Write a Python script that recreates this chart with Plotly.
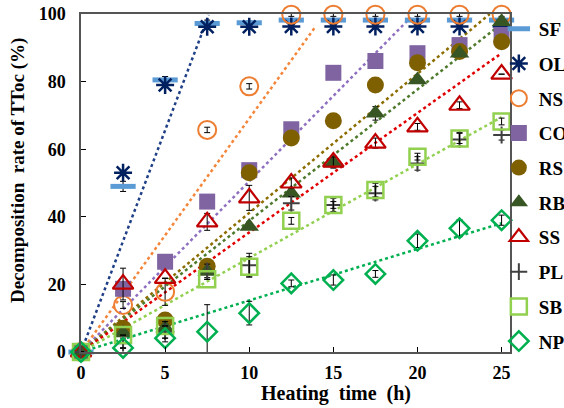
import plotly.graph_objects as go

# ---- data ----
t = [0, 2.5, 5, 7.5, 10, 12.5, 15, 17.5, 20, 22.5, 25]

names = ["SF", "OL", "NS", "CO", "RS", "RB", "SS", "PL", "SB", "NP"]

SF = [0, 49, 80.5, 97.2, 97.4, 98.2, 98.2, 98.2, 98.2, 98.2, 98.2]
OL = [0, 53, 79, 96.2, 96.2, 96.3, 96.3, 96.3, 96.3, 96.3, 96.3]
NS = [0, 13.9, 17.8, 65.7, 78.6, 99.8, 99.8, 99.8, 99.8, 99.8, 99.8]
CO = [0, 18.7, 26.7, 44.5, 53.8, 65.9, 82.6, 86.1, 88.4, 90.8, 93.8]
RS = [0, 7.0, 9.5, 25.4, 53.0, 63.3, 68.4, 79.0, 85.6, 88.9, 91.8]
RB = [0, 5.6, 7.1, 23.8, 37.1, 47.0, 55.9, 70.6, 80.5, 88.4, 97.7]
SS = [0, 20.1, 21.8, 38.5, 45.6, 50.0, 56.2, 61.8, 66.6, 73.0, 82.2]
PL = [0, 2.6, 6.0, 24.0, 25.7, 44.0, 43.5, 47.0, 55.8, 62.9, 64.2]
SB = [0, 5.0, 7.7, 21.5, 25.2, 38.8, 43.5, 47.9, 57.8, 63.2, 68.2]
NP = [0, 1.2, 4.1, 6.0, 11.5, 20.3, 21.3, 23.1, 32.9, 36.6, 39.0]

SF_err = [0, 1.5, 1.0, 1.0, 0.5, 0, 0, 0, 0, 0, 0]
OL_err = [0, 0, 0, 0, 0, 0, 0, 0, 0, 0, 0]
NS_err = [0, 1.0, 4.0, 0.8, 0.8, 0.5, 0.5, 0.5, 0.5, 0.5, 0.5]
CO_err = [0, 0, 0, 0, 0, 0, 0, 0, 0, 0, 0]
RS_err = [0, 0, 0, 0, 0, 0, 0, 0, 0, 0, 0]
RB_err = [0, 0, 0, 0, 0, 1.0, 1.5, 2.0, 0, 0, 0]
SS_err = [0, 4.7, 0, 2.5, 3.7, 1.5, 1.5, 1.5, 1.0, 1.0, 0]
PL_err = [0, 1.5, 3.0, 2.0, 3.5, 2.0, 2.0, 2.0, 2.0, 2.0, 1.5]
SB_err = [0, 0, 0, 0, 3.0, 1.0, 1.0, 2.0, 1.0, 1.5, 1.0]
NP_err = [0, 0, 0, 8.0, 3.5, 1.0, 1.5, 1.0, 2.0, 2.5, 1.5]

# trend lines (dotted) from origin to read end points
trend_names = ["OL", "NS", "CO", "RS", "RB", "SS", "SB", "NP"]
trend_end_t = [7.6, 13.9, 19.6, 24.3, 24.9, 25.0, 25.0, 25.0]
trend_end_v = [99.7, 96.0, 99.0, 100.0, 96.7, 88.4, 69.5, 38.1]

x_ticks = [0, 5, 10, 15, 20, 25]
y_ticks = [0, 20, 40, 60, 80, 100]

# ---- styles ----
values = dict(SF=SF, OL=OL, NS=NS, CO=CO, RS=RS, RB=RB, SS=SS, PL=PL, SB=SB, NP=NP)
errors = dict(SF=SF_err, OL=OL_err, NS=NS_err, CO=CO_err, RS=RS_err, RB=RB_err,
              SS=SS_err, PL=PL_err, SB=SB_err, NP=NP_err)
marker_style = {
    "SF": dict(symbol="line-ew", size=18, color="#5B9BD5", line=dict(width=5, color="#5B9BD5")),
    "OL": dict(symbol="asterisk", size=15, color="#002060", line=dict(width=2.5, color="#002060")),
    "NS": dict(symbol="circle-open", size=18, color="#ED7D31", line=dict(width=2, color="#ED7D31")),
    "CO": dict(symbol="square", size=16, color="#8064A2", line=dict(width=0)),
    "RS": dict(symbol="circle", size=17, color="#7F6000", line=dict(width=0)),
    "RB": dict(symbol="triangle-up", size=17, color="#375623", line=dict(width=0)),
    "SS": dict(symbol="triangle-up-open", size=18, color="#C00000", line=dict(width=2.2, color="#C00000")),
    "PL": dict(symbol="cross-thin", size=12, color="#404040", line=dict(width=2, color="#404040")),
    "SB": dict(symbol="square-open", size=16, color="#92D050", line=dict(width=2.5, color="#92D050")),
    "NP": dict(symbol="diamond-open", size=15, color="#00B050", line=dict(width=2.5, color="#00B050")),
}
trend_color = {
    "OL": "#1F3F86", "NS": "#F4863B", "CO": "#8F6FBF", "RS": "#8C6D00",
    "RB": "#4E7A2C", "SS": "#E00000", "SB": "#92D050", "NP": "#00B050",
}

FONT = "Liberation Serif, Times New Roman, serif"

fig = go.Figure()

for n, te, ve in zip(trend_names, trend_end_t, trend_end_v):
    fig.add_trace(go.Scatter(
        x=[0, te], y=[0, ve], mode="lines", showlegend=False, hoverinfo="skip",
        line=dict(color=trend_color[n], width=2.5, dash="dot"),
    ))

for n in names:
    fig.add_trace(go.Scatter(
        x=t, y=values[n], mode="markers", name=n, legendgroup=n,
        marker=marker_style[n], cliponaxis=False,
        error_y=dict(type="data", array=errors[n], visible=True,
                     color="#000000", thickness=1, width=3),
    ))

fig.update_layout(
    width=564, height=408,
    margin=dict(l=81, r=54, t=14, b=56, autoexpand=False),
    paper_bgcolor="white", plot_bgcolor="white",
    font=dict(family=FONT, size=18, color="black", weight="bold"),
    showlegend=True,
    legend=dict(x=0.974, xanchor="left", y=1.012, yanchor="top",
                bgcolor="rgba(0,0,0,0)", font=dict(family=FONT, size=19, weight="bold"),
                tracegroupgap=7, itemwidth=30, maxheight=400),
    xaxis=dict(range=[0, 25.5], tickvals=x_ticks, ticks="inside", ticklen=5,
               tickcolor="#000", showgrid=False, zeroline=False,
               showline=True, linecolor="#555", linewidth=1.5, mirror=True,
               ticklabelstandoff=4),
    yaxis=dict(range=[0, 100], tickvals=y_ticks, ticks="inside", ticklen=5,
               tickcolor="#000", showgrid=False, zeroline=False,
               showline=True, linecolor="#555", linewidth=1.5, mirror=True,
               ticklabelstandoff=10),
    annotations=[
        dict(text="Heating  time  (h)", xref="paper", yref="paper",
             x=0.594, y=-0.124, xanchor="center", yanchor="middle", showarrow=False,
             font=dict(family=FONT, size=20, weight="bold")),
        dict(text="Decomposition  rate of TToc (%)", xref="paper", yref="paper",
             x=-0.147, y=0.538, xanchor="center", yanchor="middle", showarrow=False,
             textangle=-90, font=dict(family=FONT, size=19, weight="bold")),
    ],
)

fig.write_html("out.html")
